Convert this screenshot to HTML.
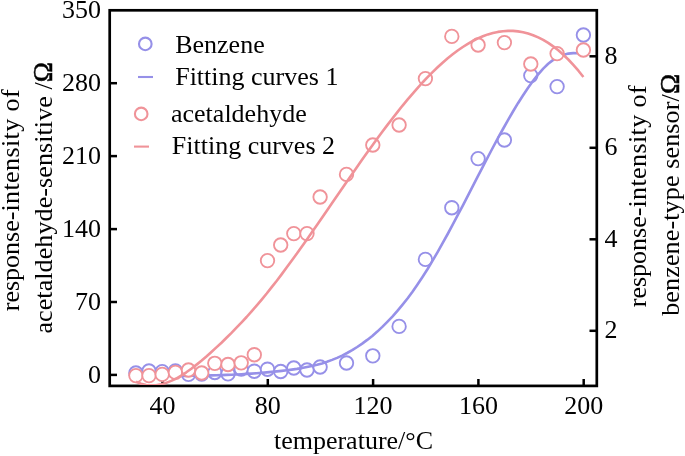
<!DOCTYPE html>
<html><head><meta charset="utf-8"><title>chart</title>
<style>html,body{margin:0;padding:0;background:#fff}svg{display:block}text{font-family:"Liberation Serif",serif;font-size:26px;fill:#000}#tx{opacity:0.999}</style></head>
<body>
<svg width="685" height="456" viewBox="0 0 685 456">
<rect width="685" height="456" fill="#fff"/>
<rect x="109.7" y="10.3" width="487.09999999999997" height="375.59999999999997" fill="none" stroke="#000" stroke-width="2.7"/>
<g stroke="#000" stroke-width="2.5">
<line x1="162.5" y1="385.9" x2="162.5" y2="379.0"/>
<line x1="267.8" y1="385.9" x2="267.8" y2="379.0"/>
<line x1="373.1" y1="385.9" x2="373.1" y2="379.0"/>
<line x1="478.4" y1="385.9" x2="478.4" y2="379.0"/>
<line x1="583.7" y1="385.9" x2="583.7" y2="379.0"/>
<line x1="109.7" y1="374.9" x2="117.0" y2="374.9"/>
<line x1="109.7" y1="302.0" x2="117.0" y2="302.0"/>
<line x1="109.7" y1="229.1" x2="117.0" y2="229.1"/>
<line x1="109.7" y1="156.1" x2="117.0" y2="156.1"/>
<line x1="109.7" y1="83.2" x2="117.0" y2="83.2"/>
<line x1="596.8" y1="330.8" x2="589.5" y2="330.8"/>
<line x1="596.8" y1="239.3" x2="589.5" y2="239.3"/>
<line x1="596.8" y1="147.8" x2="589.5" y2="147.8"/>
<line x1="596.8" y1="56.3" x2="589.5" y2="56.3"/>
</g>
<clipPath id="cp"><rect x="109.7" y="10.3" width="487.09999999999997" height="374.8"/></clipPath><g clip-path="url(#cp)">
<g fill="#fff" stroke="#9690e8" stroke-width="1.85">
<circle cx="135.9" cy="373" r="6.75"/>
<circle cx="149.0" cy="371" r="6.75"/>
<circle cx="162.2" cy="371.6" r="6.75"/>
<circle cx="175.4" cy="371" r="6.75"/>
<circle cx="188.5" cy="374.4" r="6.75"/>
<circle cx="201.7" cy="374" r="6.75"/>
<circle cx="214.8" cy="372.5" r="6.75"/>
<circle cx="228.0" cy="373.8" r="6.75"/>
<circle cx="241.2" cy="369" r="6.75"/>
<circle cx="254.3" cy="371.2" r="6.75"/>
<circle cx="267.5" cy="369.2" r="6.75"/>
<circle cx="280.7" cy="371.5" r="6.75"/>
<circle cx="293.8" cy="368" r="6.75"/>
<circle cx="307.0" cy="370" r="6.75"/>
<circle cx="320.1" cy="367" r="6.75"/>
<circle cx="346.5" cy="363" r="6.75"/>
<circle cx="372.8" cy="355.8" r="6.75"/>
<circle cx="399.1" cy="326.4" r="6.75"/>
<circle cx="425.4" cy="259.4" r="6.75"/>
<circle cx="451.8" cy="207.7" r="6.75"/>
<circle cx="478.1" cy="158.6" r="6.75"/>
<circle cx="504.4" cy="140" r="6.75"/>
<circle cx="530.8" cy="75.6" r="6.75"/>
<circle cx="557.1" cy="86.6" r="6.75"/>
<circle cx="583.4" cy="35" r="6.75"/>
</g>
<path d="M136.0,376.0 L141.0,376.0 L146.1,376.0 L151.1,376.0 L156.1,376.0 L161.1,376.0 L166.2,376.0 L171.2,376.0 L176.2,375.9 L181.2,375.9 L186.3,375.9 L191.3,375.8 L196.3,375.7 L201.4,375.6 L206.4,375.5 L211.4,375.4 L216.4,375.3 L221.5,375.1 L226.5,374.9 L231.5,374.7 L236.5,374.5 L241.6,374.2 L246.6,373.9 L251.6,373.6 L256.6,373.2 L261.7,372.8 L266.7,372.4 L271.7,371.9 L276.8,371.4 L281.8,370.9 L286.8,370.3 L291.8,369.6 L296.9,368.9 L301.9,368.1 L306.9,367.1 L311.9,366.0 L317.0,364.8 L322.0,363.4 L327.0,361.8 L332.1,359.9 L337.1,357.9 L342.1,355.6 L347.1,353.0 L352.2,350.2 L357.2,347.0 L362.2,343.6 L367.2,339.9 L372.3,335.9 L377.3,331.6 L382.3,326.9 L387.3,321.9 L392.4,316.6 L397.4,310.9 L402.4,304.9 L407.5,298.5 L412.5,291.7 L417.5,284.5 L422.5,277.0 L427.6,269.0 L432.6,260.7 L437.6,252.1 L442.6,243.2 L447.7,234.0 L452.7,224.7 L457.7,215.2 L462.8,205.6 L467.8,195.8 L472.8,186.1 L477.8,176.4 L482.9,166.7 L487.9,157.0 L492.9,147.5 L497.9,138.2 L503.0,129.0 L508.0,120.1 L513.0,111.5 L518.0,103.2 L523.1,95.2 L528.1,87.7 L533.1,80.7 L538.2,74.3 L543.2,68.6 L548.2,63.8 L553.2,59.9 L558.3,56.9 L563.3,54.9 L568.3,53.6 L573.3,53.1 L578.4,53.2 L583.4,53.8" fill="none" stroke="#9690e8" stroke-width="2.6" stroke-linejoin="round"/>
<g fill="#fff" stroke="#f09399" stroke-width="1.85">
<circle cx="135.9" cy="375.6" r="6.75"/>
<circle cx="149.0" cy="375.6" r="6.75"/>
<circle cx="162.2" cy="374.4" r="6.75"/>
<circle cx="175.4" cy="372.4" r="6.75"/>
<circle cx="188.5" cy="370" r="6.75"/>
<circle cx="201.7" cy="373" r="6.75"/>
<circle cx="214.8" cy="363.3" r="6.75"/>
<circle cx="228.0" cy="364.5" r="6.75"/>
<circle cx="241.2" cy="362.8" r="6.75"/>
<circle cx="254.3" cy="354.7" r="6.75"/>
<circle cx="267.5" cy="260.6" r="6.75"/>
<circle cx="280.7" cy="245" r="6.75"/>
<circle cx="293.8" cy="233.6" r="6.75"/>
<circle cx="307.0" cy="233.6" r="6.75"/>
<circle cx="320.1" cy="197" r="6.75"/>
<circle cx="346.5" cy="174.4" r="6.75"/>
<circle cx="372.8" cy="145" r="6.75"/>
<circle cx="399.1" cy="125" r="6.75"/>
<circle cx="425.4" cy="78.6" r="6.75"/>
<circle cx="451.8" cy="36.4" r="6.75"/>
<circle cx="478.1" cy="45" r="6.75"/>
<circle cx="504.4" cy="42.6" r="6.75"/>
<circle cx="530.8" cy="64" r="6.75"/>
<circle cx="557.1" cy="53.6" r="6.75"/>
<circle cx="583.4" cy="50" r="6.75"/>
</g>
<path d="M136.0,381.7 L141.0,383.8 L146.1,385.0 L151.1,385.4 L156.1,385.2 L161.1,384.3 L166.2,382.9 L171.2,380.9 L176.2,378.5 L181.2,375.6 L186.3,372.3 L191.3,368.8 L196.3,364.9 L201.4,360.8 L206.4,356.5 L211.4,352.0 L216.4,347.4 L221.5,342.7 L226.5,337.8 L231.5,332.9 L236.5,327.7 L241.6,322.4 L246.6,317.0 L251.6,311.3 L256.6,305.6 L261.7,299.6 L266.7,293.5 L271.7,287.1 L276.8,280.7 L281.8,274.1 L286.8,267.3 L291.8,260.5 L296.9,253.6 L301.9,246.5 L306.9,239.4 L311.9,232.2 L317.0,225.0 L322.0,217.7 L327.0,210.4 L332.1,203.1 L337.1,195.8 L342.1,188.5 L347.1,181.2 L352.2,174.0 L357.2,166.7 L362.2,159.6 L367.2,152.5 L372.3,145.5 L377.3,138.6 L382.3,131.8 L387.3,125.1 L392.4,118.5 L397.4,112.1 L402.4,105.8 L407.5,99.7 L412.5,93.8 L417.5,88.1 L422.5,82.5 L427.6,77.2 L432.6,72.1 L437.6,67.3 L442.6,62.7 L447.7,58.3 L452.7,54.3 L457.7,50.5 L462.8,47.0 L467.8,43.8 L472.8,41.0 L477.8,38.4 L482.9,36.3 L487.9,34.4 L492.9,33.0 L497.9,31.9 L503.0,31.2 L508.0,30.9 L513.0,30.9 L518.0,31.4 L523.1,32.2 L528.1,33.5 L533.1,35.2 L538.2,37.4 L543.2,39.9 L548.2,42.9 L553.2,46.4 L558.3,50.3 L563.3,54.7 L568.3,59.5 L573.3,64.9 L578.4,70.7 L583.4,77.0" fill="none" stroke="#f09399" stroke-width="2.6" stroke-linejoin="round"/>
</g>
<g id="tx">
<text x="162.5" y="413.6" text-anchor="middle">40</text>
<text x="267.8" y="413.6" text-anchor="middle">80</text>
<text x="373.1" y="413.6" text-anchor="middle">120</text>
<text x="478.4" y="413.6" text-anchor="middle">160</text>
<text x="583.7" y="413.6" text-anchor="middle">200</text>
<text x="101" y="383.1" text-anchor="end">0</text>
<text x="101" y="310.2" text-anchor="end">70</text>
<text x="101" y="237.3" text-anchor="end">140</text>
<text x="101" y="164.3" text-anchor="end">210</text>
<text x="101" y="91.4" text-anchor="end">280</text>
<text x="101" y="17.7" text-anchor="end">350</text>
<text x="604.5" y="338.2">2</text>
<text x="604.5" y="246.7">4</text>
<text x="604.5" y="155.2">6</text>
<text x="604.5" y="63.7">8</text>
<text x="353.5" y="448.8" text-anchor="middle">temperature/°C</text>
<text class="r" transform="translate(19.4,311.2) rotate(-90)">response-<tspan letter-spacing="0.4">intensity of</tspan></text>
<text class="r" transform="translate(52.4,197.8) rotate(-90)" text-anchor="middle" letter-spacing="0.1">acetaldehyde-sensitive /<tspan font-size="27" style="stroke:#000;stroke-width:0.55px">Ω</tspan></text>
<text class="r" transform="translate(646,307.2) rotate(-90)">response-<tspan letter-spacing="0.4">intensity of</tspan></text>
<text class="r" transform="translate(679,194.8) rotate(-90)" text-anchor="middle" letter-spacing="0.15">benzene-type sensor/<tspan font-size="27" style="stroke:#000;stroke-width:0.55px">Ω</tspan></text>
<circle cx="145.3" cy="43.9" r="6.3" fill="#fff" stroke="#9690e8" stroke-width="2.1"/>
<line x1="138" y1="77" x2="153" y2="77" stroke="#9690e8" stroke-width="2.1"/>
<circle cx="141.2" cy="113.9" r="6.3" fill="#fff" stroke="#f09399" stroke-width="2.1"/>
<line x1="134" y1="146.6" x2="149" y2="146.6" stroke="#f09399" stroke-width="2.1"/>
<text x="175.2" y="52.6">Benzene</text>
<text x="175.2" y="84.8">Fitting curves 1</text>
<text x="171" y="121.7">acetaldehyde</text>
<text x="171.8" y="154.3">Fitting curves 2</text>
</g>
</svg></body></html>
